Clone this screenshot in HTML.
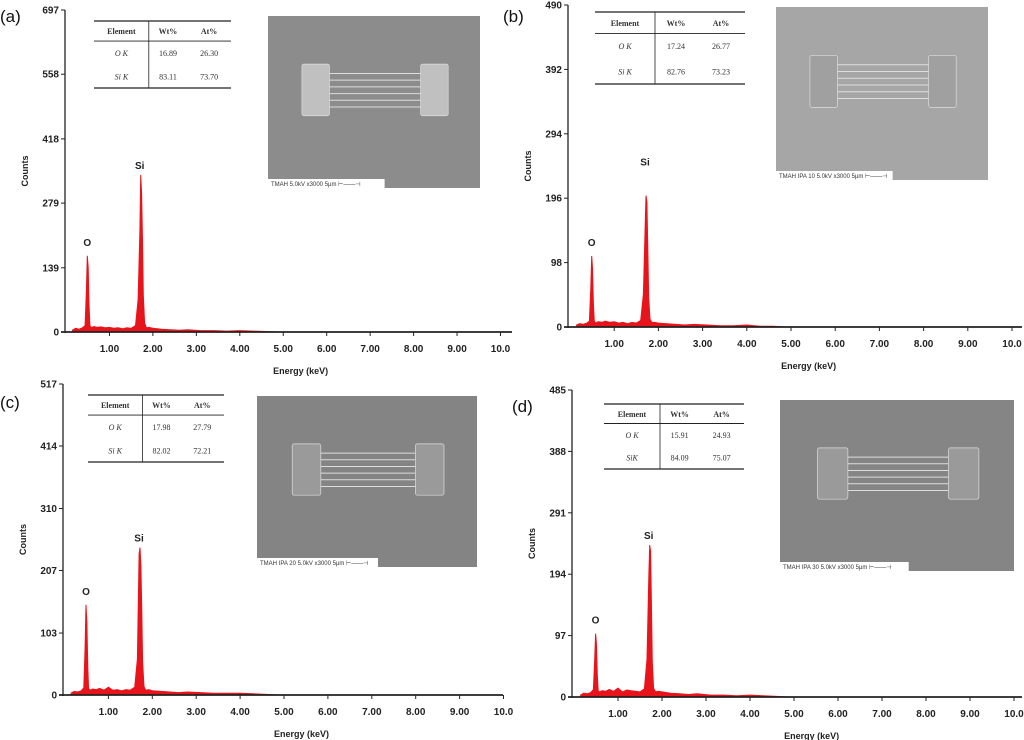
<!DOCTYPE html>
<html><head><meta charset="utf-8">
<style>
html,body{margin:0;padding:0;background:#fff;}
svg{display:block;font-family:"Liberation Sans",sans-serif;}
.tk{font-size:10px;font-weight:bold;fill:#222;}
.tbl{font-family:"Liberation Serif",serif;font-size:8px;fill:#333;}
</style></head>
<body>
<svg id="fig" width="1024" height="740" viewBox="0 0 1024 740" xmlns="http://www.w3.org/2000/svg"></svg>
<script>
// Shared energy grid (keV)
const energies = [0.15,0.22,0.30,0.38,0.44,0.47,0.49,0.51,0.53,0.55,0.58,0.64,0.72,0.80,0.90,1.00,1.10,1.20,1.30,1.40,1.50,1.60,1.66,1.70,1.72,1.74,1.76,1.78,1.81,1.85,1.92,2.00,2.20,2.40,2.60,2.80,3.10,3.40,3.70,4.00,4.30,4.60,4.90];
// Counts per panel
const countsA = [4,8,6,9,14,90,165,140,60,14,9,12,10,11,9,10,8,9,7,9,8,14,70,220,340,300,200,80,20,9,10,8,6,5,4,5,3,3,2,3,2,1,0];
const countsB = [3,5,4,6,9,60,108,90,35,9,6,8,7,9,7,8,6,7,5,7,6,10,50,150,200,190,120,45,12,7,7,6,5,4,3,4,3,2,2,3,1,1,0];
const countsC = [3,6,5,7,12,80,150,120,45,11,8,10,9,11,8,13,8,9,7,9,8,13,60,235,245,215,140,55,14,8,9,7,6,5,4,5,4,3,3,3,2,1,0];
const countsD = [3,6,5,7,12,60,100,85,35,10,8,10,9,12,9,14,8,11,10,9,8,13,60,190,240,230,150,55,14,8,9,8,6,5,4,5,3,3,2,3,2,1,0];
const xTickLabels = ["1.00","2.00","3.00","4.00","5.00","6.00","7.00","8.00","9.00","10.0"];
const yTicksA = [0,139,279,418,558,697];
const yTicksB = [0,98,196,294,392,490];
const yTicksC = [0,103,207,310,414,517];
const yTicksD = [0,97,194,291,388,485];
const tableA = [["O K","16.89","26.30"],["Si K","83.11","73.70"]];
const tableB = [["O K","17.24","26.77"],["Si K","82.76","73.23"]];
const tableC = [["O K","17.98","27.79"],["Si K","82.02","72.21"]];
const tableD = [["O K","15.91","24.93"],["SiK","84.09","75.07"]];

const NS="http://www.w3.org/2000/svg";
const fig=document.getElementById('fig');
function mk(tag,attrs,parent,text){const e=document.createElementNS(NS,tag);for(const k in attrs)e.setAttribute(k,attrs[k]);if(text!==undefined)e.textContent=text;(parent||fig).appendChild(e);return e;}

function panel(id,c){
  const g=mk('g',{});
  
  
  const ymax=c.yticks[c.yticks.length-1];
  const ys=v=>c.y0-(v/ymax)*(c.y0-c.ytop);
  const xs=e=>c.k0+e*c.kpx;
  const pl=mk('text',{x:c.lx,y:c.ly,'font-size':'17px',fill:'#111'},g,'('+id+')');
  
  
  const ya=mk('line',{x1:c.ax,y1:c.ytop,x2:c.ax,y2:c.y0+1,stroke:'#222','stroke-width':1.3},g);
  
  
  c.yticks.forEach(v=>{
    const y=ys(v);
    mk('line',{x1:c.ax-4,y1:y,x2:c.ax,y2:y,stroke:'#222','stroke-width':1},g);
    const t=mk('text',{x:c.ax-6,y:y+3.5,'text-anchor':'end',class:'tk'},g,String(v));
    
    
  });
  const yt=mk('text',{x:0,y:0,'font-size':'9px','font-weight':'bold',fill:'#222','text-anchor':'middle',transform:`translate(${c.ax-37},${(c.ytop+c.y0)/2}) rotate(-90)`},g,'Counts');
  
  
  let d=`M${xs(energies[0])},${c.y0}`;
  energies.forEach((e,i)=>{d+=` L${xs(e).toFixed(1)},${ys(c.counts[i]).toFixed(1)}`;});
  d+=` L${xs(energies[energies.length-1])},${c.y0} Z`;
  const sp=mk('path',{d:d,fill:'#e8141b',stroke:'#e8141b','stroke-width':1},g);
  
  
  const oi=c.counts.indexOf(Math.max(...c.counts.slice(0,12)));
  const si=c.counts.indexOf(Math.max(...c.counts.slice(20,30)));
  const ol=mk('text',{x:xs(energies[oi]),y:ys(c.counts[oi])-10,'text-anchor':'middle','font-size':'10px','font-weight':'bold',fill:'#222'},g,'O');
  
  
  const sl=mk('text',{x:xs(energies[si])-1,y:ys(c.counts[si])-c.siOff,'text-anchor':'middle','font-size':'10px','font-weight':'bold',fill:'#222'},g,'Si');
  
  
  const xa=mk('line',{x1:c.ax-4,y1:c.y0,x2:c.xend,y2:c.y0,stroke:'#222','stroke-width':1.8},g);
  
  
  xTickLabels.forEach((lab,i)=>{
    const x=xs(i+1);
    mk('line',{x1:x,y1:c.y0,x2:x,y2:c.y0+4,stroke:'#222','stroke-width':1},g);
    const t=mk('text',{x:x,y:c.y0+20,'text-anchor':'middle',class:'tk'},g,lab);
    
    
  });
  const xt=mk('text',{x:xs(5.4),y:c.y0+42,'text-anchor':'middle','font-size':'9px','font-weight':'bold',fill:'#222'},g,'Energy (keV)');
  
  
  const T=c.tb;
  const tg=mk('g',{},g);
  
  
  const h=T.y2-T.y1, hr=h*0.3;
  mk('line',{x1:T.x1,y1:T.y1,x2:T.x2,y2:T.y1,stroke:'#222','stroke-width':1.2},tg);
  mk('line',{x1:T.x1,y1:T.y1+hr,x2:T.x2,y2:T.y1+hr,stroke:'#222','stroke-width':0.9},tg);
  mk('line',{x1:T.x1,y1:T.y2,x2:T.x2,y2:T.y2,stroke:'#222','stroke-width':1.2},tg);
  const vx=T.x1+(T.x2-T.x1)*0.4;
  mk('line',{x1:vx,y1:T.y1,x2:vx,y2:T.y2,stroke:'#222','stroke-width':0.8},tg);
  const cx=[T.x1+(T.x2-T.x1)*0.2,T.x1+(T.x2-T.x1)*0.54,T.x1+(T.x2-T.x1)*0.84];
  ["Element","Wt%","At%"].forEach((s,i)=>mk('text',{x:cx[i],y:T.y1+hr/2+3,'text-anchor':'middle',class:'tbl','font-weight':'bold',fill:'#111'},tg,s));
  c.table.forEach((row,r)=>{
    const y=T.y1+hr+(h-hr)*(r+0.5)/2+3;
    row.forEach((s,i)=>mk('text',{x:cx[i],y:y,'text-anchor':'middle',class:'tbl','font-style':i==0?'italic':'normal'},tg,s));
  });
  const S=c.sem;
  const sg=mk('g',{},g);
  
  
  const w=S.x2-S.x1, hh=S.y2-S.y1;
  mk('rect',{x:S.x1,y:S.y1,width:w,height:hh,fill:S.bg},sg);
  const dy=S.y1+hh*0.28, dh=hh*0.3;
  mk('rect',{x:S.x1+w*0.16,y:dy,width:w*0.13,height:dh,fill:S.pad,stroke:'#ddd','stroke-width':0.7,rx:2},sg);
  mk('rect',{x:S.x1+w*0.72,y:dy,width:w*0.13,height:dh,fill:S.pad,stroke:'#ddd','stroke-width':0.7,rx:2},sg);
  for(let i=0;i<6;i++){const yy=dy+dh*0.18+i*dh*0.13;mk('line',{x1:S.x1+w*0.29,y1:yy,x2:S.x1+w*0.72,y2:yy,stroke:'#ddd','stroke-width':1},sg);}
  mk('rect',{x:S.x1,y:S.y2-9,width:w*0.55,height:9,fill:'#fff'},sg);
  mk('text',{x:S.x1+3,y:S.y2-2,'font-size':'6px',fill:'#333'},sg,S.cap+'  5.0kV  x3000   5µm ⊢——⊣');
  return g;
}

panel('a',{lx:0,ly:22,ax:65,ytop:10,y0:332,yticks:yTicksA,k0:66,kpx:43.45,xend:512,counts:countsA,siOff:6,
  tb:{x1:94,y1:21,x2:231,y2:88},table:tableA,sem:{x1:268,y1:16,x2:480,y2:188,bg:'#8c8c8c',pad:'#c0c0c0',cap:'TMAH'}});
panel('b',{lx:503,ly:22,ax:568,ytop:5,y0:327,yticks:yTicksB,k0:570,kpx:44.2,xend:1022,counts:countsB,siOff:30,
  tb:{x1:595,y1:12,x2:745,y2:84},table:tableB,sem:{x1:776,y1:7,x2:988,y2:180,bg:'#a6a6a6',pad:'#a0a0a0',cap:'TMAH IPA 10'}});
panel('c',{lx:0,ly:408,ax:63,ytop:384,y0:695,yticks:yTicksC,k0:64.5,kpx:43.9,xend:503,counts:countsC,siOff:6,
  tb:{x1:88,y1:395,x2:224,y2:462},table:tableC,sem:{x1:257,y1:396,x2:477,y2:567,bg:'#848484',pad:'#9a9a9a',cap:'TMAH IPA 20'}});
panel('d',{lx:512,ly:412,ax:572,ytop:390,y0:697,yticks:yTicksD,k0:574,kpx:44.0,xend:1022,counts:countsD,siOff:6,
  tb:{x1:604,y1:404,x2:744,y2:469},table:tableD,sem:{x1:780,y1:400,x2:1014,y2:571,bg:'#858585',pad:'#9a9a9a',cap:'TMAH IPA 30'}});
</script>
</body></html>
